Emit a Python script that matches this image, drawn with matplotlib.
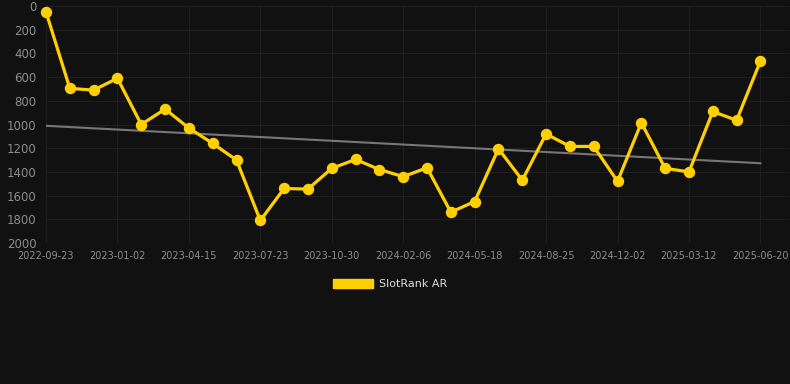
import matplotlib.pyplot as plt
import matplotlib.patches as mpatches
import numpy as np

# SlotRank AR, one point per step; tick labels every 3rd point
ranks = [50, 695, 710, 610, 1000, 870, 1030, 1160, 1300, 1810, 1540,
         1545, 1370, 1295, 1380, 1440, 1365, 1740, 1650, 1205, 1470,
         1080, 1185, 1185, 1480, 985, 1370, 1400, 890, 965, 465]
tick_labels = ['2022-09-23', '2023-01-02', '2023-04-15', '2023-07-23',
               '2023-10-30', '2024-02-06', '2024-05-18', '2024-08-25',
               '2024-12-02', '2025-03-12', '2025-06-20']

bg = '#111111'
yellow = '#FFD000'

x = np.arange(len(ranks))
fig = plt.figure(figsize=(7.9, 3.84), dpi=100, facecolor=bg)
ax = fig.add_axes([46 / 790, 1 - 243 / 384, 743 / 790, 237 / 384])
ax.set_facecolor(bg)

# trend line (linear fit)
coef = np.polyfit(x, ranks, 1)
ax.plot(x, np.polyval(coef, x), color='#777777', linewidth=1.5, zorder=2)

ax.plot(x, ranks, color=yellow, linewidth=2.3, marker='o', markersize=7.2,
        zorder=3, clip_on=False)

ax.set_ylim(2000, 0)
ax.set_yticks(range(0, 2001, 200))
ax.set_xlim(0, 31.2)
ax.set_xticks(x[::3])
ax.set_xticklabels(tick_labels)

ax.grid(True, color='#1e1e1e', linewidth=0.8)
ax.set_axisbelow(True)
for s in ax.spines.values():
    s.set_visible(False)
ax.tick_params(axis='y', length=0, labelsize=8.5, colors='#8c8c8c', pad=7)
ax.tick_params(axis='x', length=0, labelsize=7, colors='#8c8c8c', pad=6)

handle = mpatches.Patch(color=yellow, label='SlotRank AR')
fig.legend(handles=[handle], loc='center', bbox_to_anchor=(390 / 790, 1 - 284 / 384),
           frameon=False, fontsize=8, labelcolor='#dddddd',
           handlelength=3.6, handleheight=0.9, handletextpad=0.6)

fig.savefig('out.png', dpi=100, facecolor=bg)
